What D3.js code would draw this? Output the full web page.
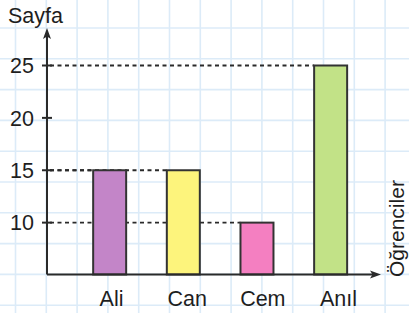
<!DOCTYPE html>
<html><head><meta charset="utf-8">
<script src="https://cdn.jsdelivr.net/npm/d3@7"></script>
<style>html,body{margin:0;padding:0;background:#fff;}svg{display:block;}</style>
</head><body>
<script>
const categories = ["Ali", "Can", "Cem", "Anıl"];
const values = [15, 15, 10, 25];
const colors = ["#c385c8", "#fdf47c", "#f47fc1", "#c2e287"];
const yTicks = [10, 15, 20, 25];
const yTitle = "Sayfa";
const xTitle = "Öğrenciler";

const W = 409, H = 313;
const svg = d3.select("body").append("svg").attr("width", W).attr("height", H);
const font = "'Liberation Sans', Arial, sans-serif";

// grid
const grid = svg.append("g").attr("stroke", "#dcebf8").attr("stroke-width", 1.6);
const gx = d3.range(15.5, W, 30.8), gy = d3.range(28, H, 30.8);
grid.selectAll("line.v").data(gx).join("line").attr("x1", d => d).attr("x2", d => d).attr("y1", 0).attr("y2", H);
grid.selectAll("line.h").data(gy).join("line").attr("y1", d => d).attr("y2", d => d).attr("x1", 0).attr("x2", W);

const y = d3.scaleLinear().domain([5, 25]).range([275, 65.5]);
const x = d3.scaleBand().domain(categories).range([52.5, 387.8]).padding(0.552);
const xl = d3.scalePoint().domain(categories).range([111.5, 338.5]);
const axisX = 47, base = 274.5;

// dashed guide lines
svg.append("g").selectAll("line").data(categories).join("line")
  .attr("x1", axisX + 3).attr("x2", d => x(d))
  .attr("y1", (d, i) => y(values[i])).attr("y2", (d, i) => y(values[i]))
  .attr("stroke", "#2a2a2a").attr("stroke-width", 1.8).attr("stroke-dasharray", "4,3.5");

// bars
svg.append("g").selectAll("rect").data(categories).join("rect")
  .attr("x", d => x(d)).attr("width", x.bandwidth())
  .attr("y", (d, i) => y(values[i])).attr("height", (d, i) => base - y(values[i]))
  .attr("fill", (d, i) => colors[i]).attr("stroke", "#333").attr("stroke-width", 2);

// axes
const ax = svg.append("g").attr("stroke", "#2a2a2a").attr("stroke-width", 2).attr("fill", "none");
ax.append("line").attr("x1", axisX).attr("x2", axisX).attr("y1", base).attr("y2", 34);
ax.append("line").attr("x1", axisX).attr("x2", 374).attr("y1", base).attr("y2", base);
svg.append("path").attr("d", `M${axisX},28 L${axisX-4},39 L${axisX},36.5 L${axisX+4},39 Z`).attr("fill", "#2a2a2a");
svg.append("path").attr("d", `M381,${base} L370,${base-4} L372.5,${base} L370,${base+4} Z`).attr("fill", "#2a2a2a");

// y ticks
const t = svg.append("g").selectAll("g").data(yTicks).join("g").attr("transform", d => `translate(0,${y(d)})`);
t.append("line").attr("x1", 42).attr("x2", 52).attr("stroke", "#2a2a2a").attr("stroke-width", 2);
t.append("text").attr("x", 34).attr("dy", "0.36em").attr("text-anchor", "end")
  .attr("font-family", font).attr("font-size", 21.5).attr("fill", "#1e1e1e").text(d => d);

// x labels
svg.append("g").selectAll("text").data(categories).join("text")
  .attr("x", d => xl(d)).attr("y", 306).attr("text-anchor", "middle")
  .attr("font-family", font).attr("font-size", 21.5).attr("fill", "#1e1e1e").text(d => d);

// titles
svg.append("text").attr("x", 8).attr("y", 23).attr("font-family", font).attr("font-size", 21.5)
  .attr("fill", "#1e1e1e").text(yTitle);
svg.append("text").attr("transform", "translate(404,277) rotate(-90)")
  .attr("font-family", font).attr("font-size", 21).attr("fill", "#1e1e1e").text(xTitle);
</script>
</body></html>
